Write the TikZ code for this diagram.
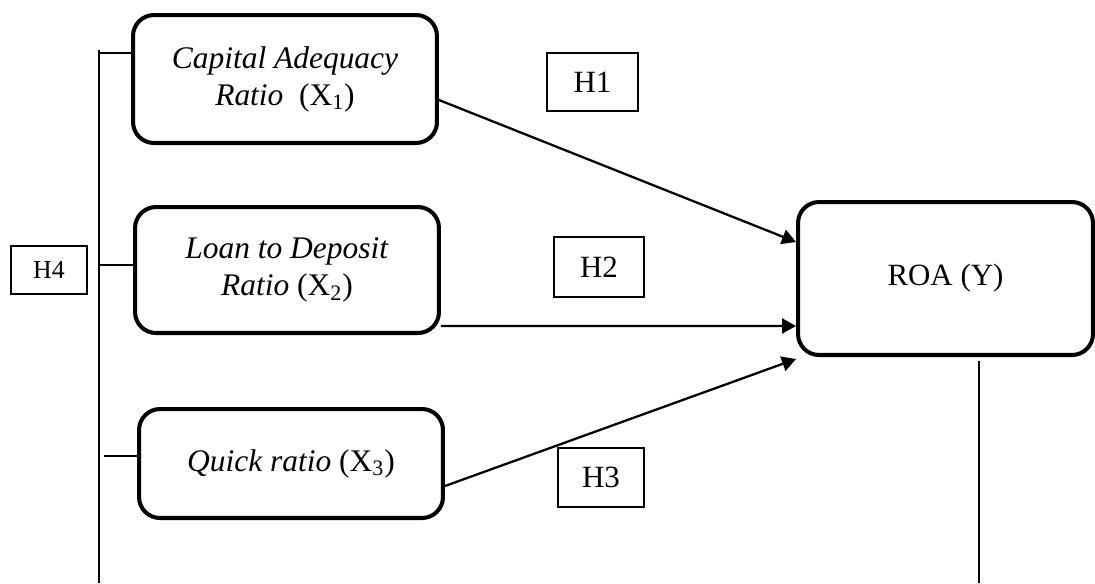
\documentclass[tikz,border=0pt]{standalone}
\usepackage{fontspec}
\setmainfont{Liberation Serif}
\usetikzlibrary{arrows.meta,positioning}
\tikzset{
    varbox/.style={rectangle,draw,rounded corners=0.42cm,line width=2.3pt,align=center,
        font=\fontsize{17.9}{21}\selectfont},
    hypbox/.style={rectangle,draw,line width=1.1pt,font=\fontsize{17.6}{21}\selectfont},
    effect/.style={-{Triangle[length=0.28cm,width=0.3cm]},line width=1.3pt},
    bracket/.style={line width=1pt}
}

\begin{document}
\begin{tikzpicture}[x=0.02cm,y=-0.02cm]
\useasboundingbox (0,0) rectangle (1095,583);

    \node[varbox,minimum width=6.08cm,minimum height=2.56cm] (car) at (285,79)
        {\textit{Capital Adequacy}\\\textit{Ratio}~~(X\textsubscript{1})};
    \node[varbox,minimum width=6.08cm,minimum height=2.52cm] (ldr) at (287,270)
        {\textit{Loan to Deposit}\\\textit{Ratio} (X\textsubscript{2})};
    \node[varbox,minimum width=6.08cm,minimum height=2.18cm] (qr)  at (291,463.5)
        {\textit{Quick ratio} (X\textsubscript{3})};
    \node[varbox,minimum width=5.9cm,minimum height=3.06cm,
          font=\fontsize{17.6}{21}\selectfont] (roa) at (945.5,278.5) {ROA (Y)};

    \node[hypbox,minimum width=1.82cm,minimum height=1.16cm] (h1) at (592.5,82)  {H1};
    \node[hypbox,minimum width=1.8cm,minimum height=1.2cm]   (h2) at (599,267)   {H2};
    \node[hypbox,minimum width=1.72cm,minimum height=1.18cm] (h3) at (601,477.5) {H3};
    \node[hypbox,minimum width=1.52cm,minimum height=0.96cm,
          font=\fontsize{14.7}{16}\selectfont]                (h4) at (49,270)    {H4};

    \draw[effect] ([yshift=-0.42cm]car.east) -- ([yshift=0.73cm]roa.west);
    \draw[effect] ([yshift=-1.12cm]ldr.east) -- ([yshift=-0.95cm]roa.west);
    \draw[effect] ([yshift=-0.45cm]qr.east)  -- ([yshift=-0.04cm]roa.south west);

    % joint effect bracket
    \coordinate (bustop) at (99,50);
    \coordinate (busbot) at (99,583);
    \draw[bracket] (bustop) -- (busbot);
    \draw[bracket] ([yshift=0.52cm]car.west) coordinate (t1) -- (t1 -| bustop);
    \draw[bracket] ([yshift=0.1cm]ldr.west)  coordinate (t2) -- (t2 -| bustop);
    \draw[bracket] ([yshift=0.15cm]qr.west)  coordinate (t3) -- ([xshift=0.1cm]t3 -| bustop);
    \coordinate (roabot) at (979,583);
    \draw[bracket] ([xshift=0.67cm,yshift=-0.08cm]roa.south) -- (roabot);

\end{tikzpicture}
\end{document}
